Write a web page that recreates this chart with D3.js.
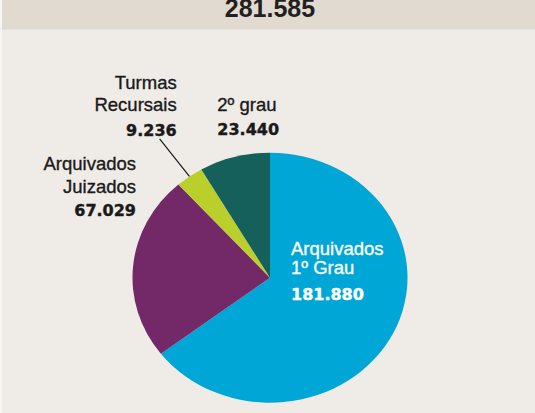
<!DOCTYPE html>
<html>
<head>
<meta charset="utf-8">
<script src="https://cdn.jsdelivr.net/npm/d3@7"></script>
<style>
  body { margin: 0; background: #efebe6; }
  .lbl { font-family: "Liberation Sans", Arial, sans-serif; font-size: 18.5px; stroke-width: 0.35px; }
  .num { font-family: "DejaVu Sans", sans-serif; font-weight: bold; font-size: 16px; stroke-width: 0.4px; }
  .total { font-family: "Liberation Sans", Arial, sans-serif; font-weight: bold; font-size: 25px; }
</style>
</head>
<body>
<div id="chart"></div>
<script>
// archived cases pie: 1st degree, special courts, appeal panels, 2nd degree

var categories = ["Arquivados 1º Grau", "Arquivados Juizados", "Turmas Recursais", "2º grau"];
var labelLines = [["Arquivados", "1º Grau"], ["Arquivados", "Juizados"], ["Turmas", "Recursais"], ["2º grau"]];
var values = [181880, 67029, 9236, 23440];
var colors = ["#00a6d6", "#732868", "#bacf2c", "#16605b"];

var width = 535, height = 413;

var ptBR = d3.formatLocale({ decimal: ",", thousands: ".", grouping: [3], currency: ["", ""] });
var fmt = ptBR.format(",d");

var svg = d3.select("#chart").append("svg")
    .attr("width", width)
    .attr("height", height);

// background: panel + top band
svg.append("rect").attr("width", width).attr("height", height).attr("fill", "#efebe6");
svg.append("rect").attr("width", width).attr("height", 29.5).attr("fill", "#e0dad0");
svg.append("rect").attr("width", 2).attr("height", height).attr("fill", "#f7f5f2");

svg.append("text")
    .attr("class", "total")
    .attr("x", 270)
    .attr("y", 17)
    .attr("text-anchor", "middle")
    .attr("fill", "#231f20")
    .text(fmt(d3.sum(values)));

// pie (slightly stretched horizontally like the original)
var cx = 270, cy = 277.7, r = 125, sx = 1.1;

var data = categories.map(function(c, i) {
    return { name: c, value: values[i], lines: labelLines[i], color: colors[i] };
});

var pie = d3.pie().sort(null).value(function(d) { return d.value; });
var arcs = pie(data);
var arc = d3.arc().innerRadius(0).outerRadius(r);

var g = svg.append("g")
    .attr("transform", "translate(" + cx + "," + cy + ") scale(" + sx + ",1)");

g.selectAll("path")
    .data(arcs)
    .enter()
    .append("path")
    .attr("d", arc)
    .attr("fill", function(d) { return d.data.color; });

// leader line for the small slice (Turmas Recursais)
var small = arcs[2];
var mid = (small.startAngle + small.endAngle) / 2;
function pt(a, rad) {
    return [cx + Math.sin(a) * rad * sx, cy - Math.cos(a) * rad];
}
var p0 = pt(mid, r * 1.0), p1 = pt(mid, r * 1.37);
svg.append("line")
    .attr("x1", p0[0]).attr("y1", p0[1])
    .attr("x2", p1[0]).attr("y2", p1[1])
    .attr("stroke", "#111")
    .attr("stroke-width", 1.1);

// label layout per slice
var layout = [
    { x: 291,   anchor: "start", ys: [255, 274], ny: 300, fill: "#ffffff" },
    { x: 136,   anchor: "end",   ys: [170, 192.7], ny: 215.7, fill: "#1a1a1a" },
    { x: 176.7, anchor: "end",   ys: [89, 110.5],  ny: 135.5, fill: "#1a1a1a" },
    { x: 217.3, anchor: "start", ys: [111],        ny: 134.5, fill: "#1a1a1a" }
];

arcs.forEach(function(d, i) {
    var L = layout[i];
    d.data.lines.forEach(function(line, j) {
        svg.append("text")
            .attr("class", "lbl")
            .attr("x", L.x)
            .attr("y", L.ys[j])
            .attr("text-anchor", L.anchor)
            .attr("fill", L.fill)
            .attr("stroke", L.fill)
            .text(line);
    });
    svg.append("text")
        .attr("class", "num")
        .attr("x", L.x)
        .attr("y", L.ny)
        .attr("text-anchor", L.anchor)
        .attr("fill", L.fill)
        .attr("stroke", L.fill)
        .text(fmt(d.data.value));
});
</script>
</body>
</html>
